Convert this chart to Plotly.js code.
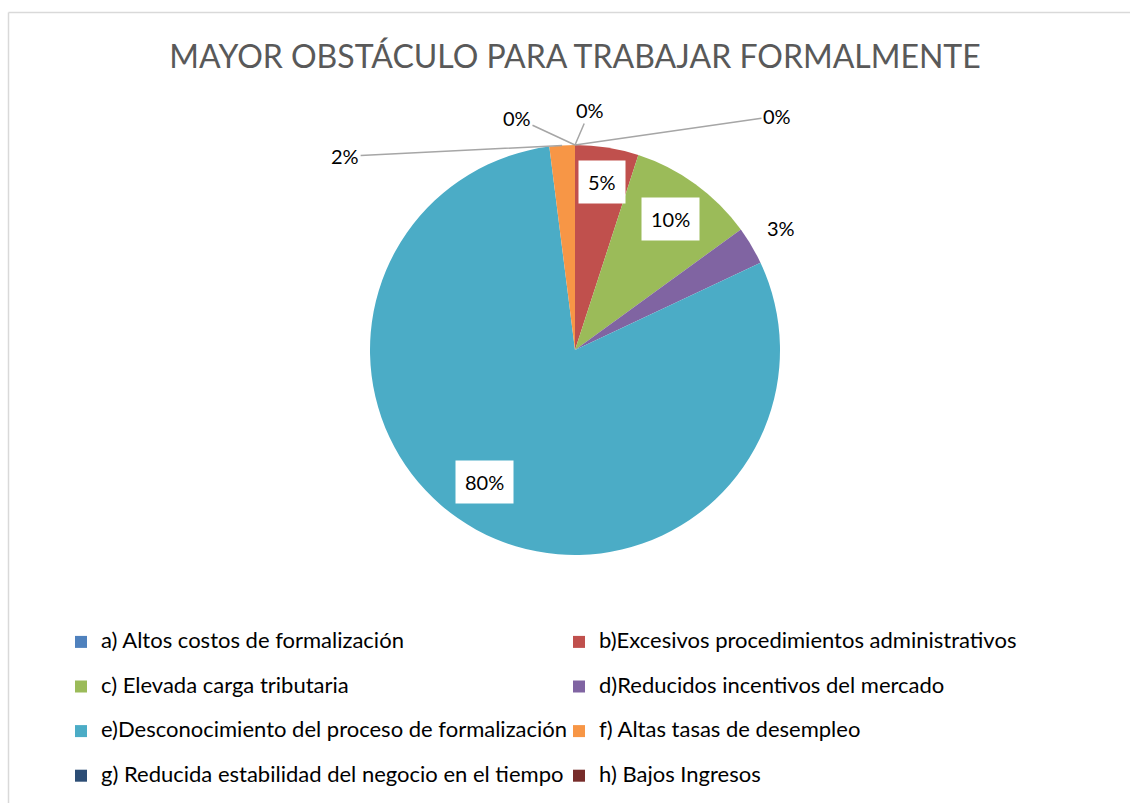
<!DOCTYPE html>
<html>
<head>
<meta charset="utf-8">
<script src="https://cdn.plot.ly/plotly-3.0.1.min.js"></script>
<style>
  html, body { margin: 0; padding: 0; background: #fff; }
  #chart { width: 1130px; height: 803px; }
</style>
</head>
<body>
<div id="chart"></div>
<script>
// ---- data ----
const categories = [
  "a) Altos costos de formalización",
  "b)Excesivos procedimientos administrativos",
  "c) Elevada carga tributaria",
  "d)Reducidos incentivos del mercado",
  "e)Desconocimiento del proceso de formalización",
  "f) Altas tasas de desempleo",
  "g) Reducida estabilidad del negocio en el tiempo",
  "h) Bajos Ingresos"
];
const percentages = [0, 5, 10, 3, 80, 2, 0, 0];
const colors = ["#4F81BD", "#C0504D", "#9BBB59", "#8064A2", "#4BACC6", "#F79646", "#2C4D75", "#772C2A"];

// ---- label placement style (per slice) ----
// mode: 'in' boxed inside label, 'out' plain outside label, 'lead' label with leader line (pixel offsets)
const labelStyle = [
  {mode: "lead", ax: 15, ay: -35},
  {mode: "in", rho: 0.83, dang: 0},
  {mode: "in", rho: 0.79, dang: 0},
  {mode: "out", rho: 1.17, dang: 0},
  {mode: "in", rho: 0.78, dang: 5.5},
  {mode: "lead", ax: -217, ay: 11},
  {mode: "lead", ax: -58, ay: -27},
  {mode: "lead", ax: 202, ay: -29}
];

// ---- layout constants ----
const W = 1130, H = 803;
const CX = 575, CY = 350, R = 205;   // pie centre / radius in px
const FONT = "Lato, 'Liberation Sans', sans-serif";

const total = percentages.reduce((a, b) => a + b, 0);
const toPaperX = px => px / W;
const toPaperY = py => 1 - py / H;

// annotations derived from data values
const annotations = [];
let cum = 0;
percentages.forEach((v, i) => {
  const mid = (cum + v / 2) / total * 2 * Math.PI;
  cum += v;
  const st = labelStyle[i];
  const txt = Math.round(v / total * 100) + "%";
  if (st.mode === "lead") {
    annotations.push({
      x: toPaperX(CX + R * Math.sin(mid)), y: toPaperY(CY - R * Math.cos(mid)),
      xref: "paper", yref: "paper", text: txt,
      showarrow: true, arrowhead: 0, arrowwidth: 1.5, arrowcolor: "#A6A6A6",
      ax: st.ax, ay: st.ay, standoff: 0,
      font: {family: FONT, size: 20, color: "#000"}
    });
  } else {
    const a = mid + st.dang * Math.PI / 180;
    annotations.push({
      x: toPaperX(CX + st.rho * R * Math.sin(a)), y: toPaperY(CY - st.rho * R * Math.cos(a)),
      xref: "paper", yref: "paper", xanchor: "center", yanchor: "middle",
      text: txt, showarrow: false,
      bgcolor: st.mode === "in" ? "#FFFFFF" : "rgba(0,0,0,0)", borderpad: 9,
      font: {family: FONT, size: 20, color: "#000"}
    });
  }
});

const trace = {
  type: "pie",
  labels: categories.map(c => '<span style="font-size:22px">' + c + '</span><br>&nbsp;'),
  values: percentages,
  sort: false,
  direction: "clockwise",
  rotation: 0,
  textinfo: "none",
  hoverinfo: "percent",
  marker: {colors: colors, line: {width: 0}},
  domain: {x: [toPaperX(CX - R), toPaperX(CX + R)], y: [toPaperY(CY + R), toPaperY(CY - R)]}
};

const layout = {
  width: W, height: H,
  margin: {l: 0, r: 0, t: 0, b: 0, autoexpand: false},
  paper_bgcolor: "#FFFFFF",
  font: {family: FONT, color: "#000"},
  title: {
    text: "MAYOR OBSTÁCULO PARA TRABAJAR FORMALMENTE",
    font: {family: FONT, size: 32, color: "#595959"},
    x: toPaperX(575), xanchor: "center", xref: "paper",
    y: toPaperY(57), yanchor: "middle", yref: "paper"
  },
  showlegend: true,
  legend: {
    orientation: "h",
    xref: "container", yref: "container",
    x: toPaperX(61), xanchor: "left",
    y: toPaperY(625), yanchor: "top",
    entrywidth: 453, entrywidthmode: "pixels",
    valign: "top",
    font: {family: FONT, size: 16, color: "#000"},
    traceorder: "normal"
  },
  annotations: annotations,
  shapes: [
    {type: "line", xref: "paper", yref: "paper", x0: toPaperX(8.5), x1: toPaperX(8.5), y0: 0, y1: toPaperY(12.5),
     line: {color: "#D9D9D9", width: 1.5}},
    {type: "line", xref: "paper", yref: "paper", x0: toPaperX(8.5), x1: 1, y0: toPaperY(12.5), y1: toPaperY(12.5),
     line: {color: "#D9D9D9", width: 1.5}}
  ]
};

Plotly.newPlot("chart", [trace], layout, {displayModeBar: false, staticPlot: true});
</script>
</body>
</html>
